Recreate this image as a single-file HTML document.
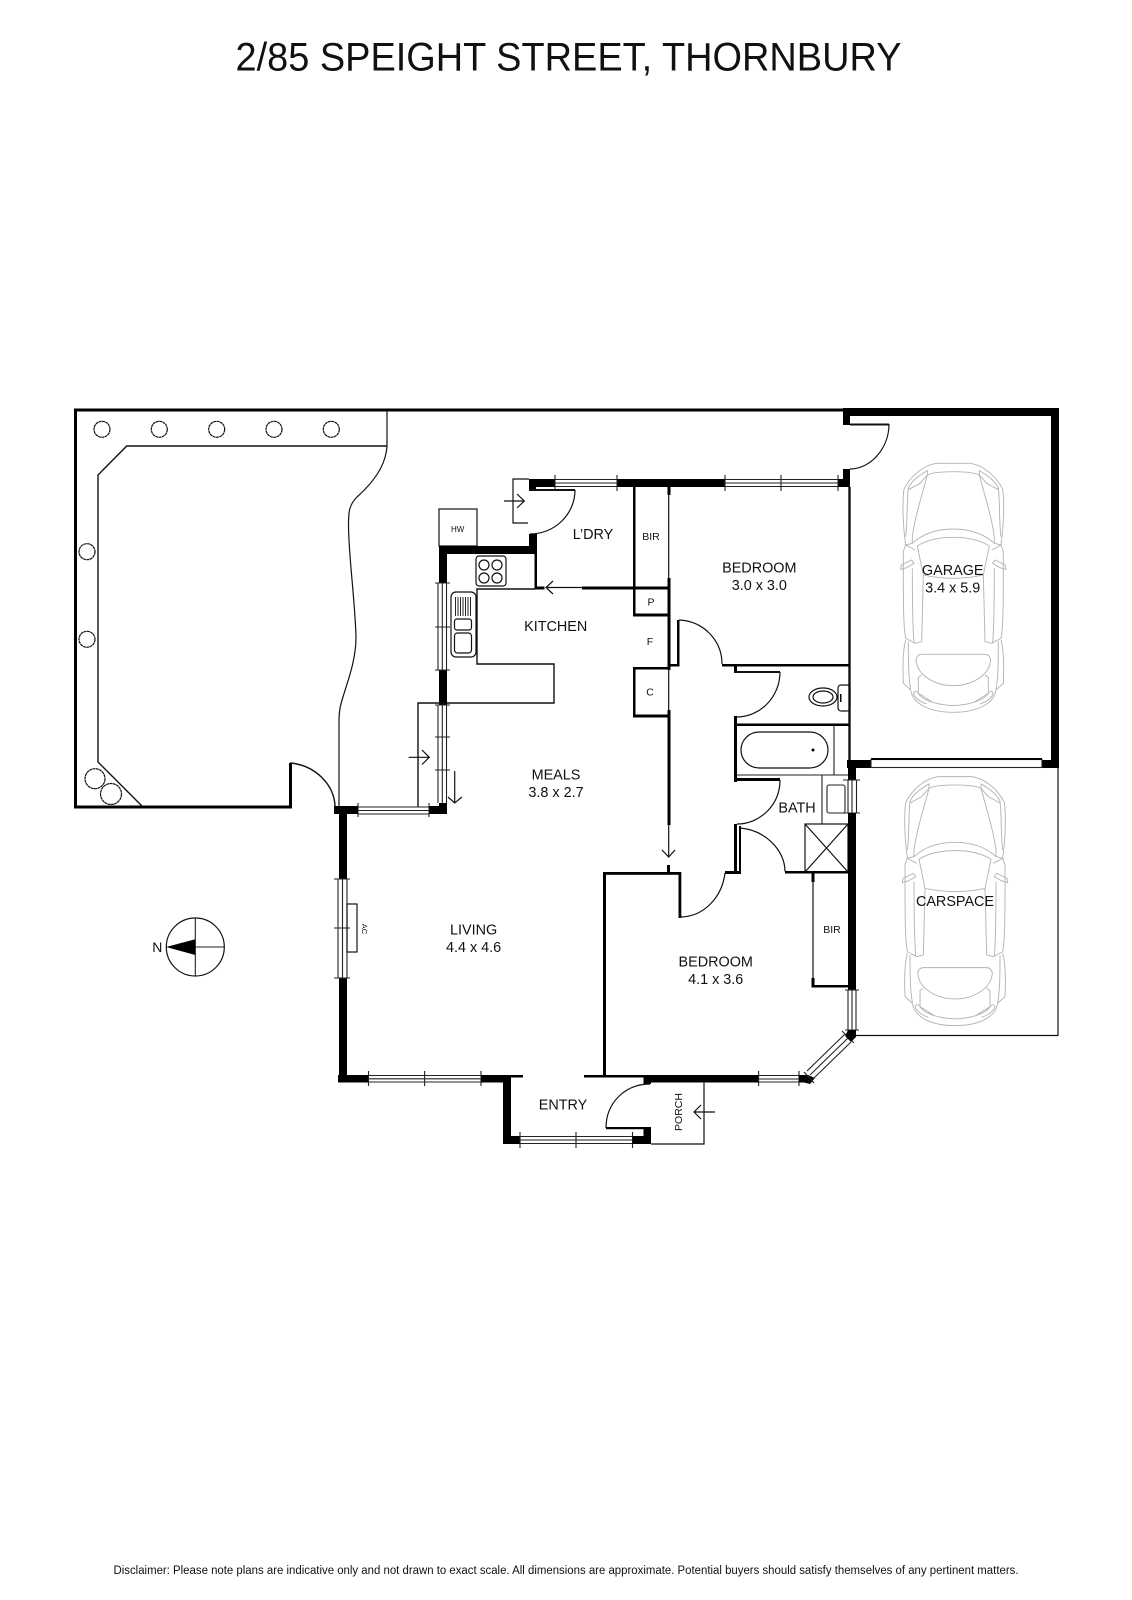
<!DOCTYPE html>
<html><head><meta charset="utf-8"><title>2/85 Speight Street, Thornbury</title>
<style>
html,body{margin:0;padding:0;background:#fff}
svg{display:block}
text{font-family:"Liberation Sans",sans-serif;fill:#111;text-anchor:middle}
.l{font-size:14.4px}
.s{font-size:10.5px}
.t{fill:none;stroke:#111;stroke-width:1.2}
.m{fill:none;stroke:#111;stroke-width:2.4}
.w{fill:#000;stroke:none}
.g{fill:none;stroke:#222;stroke-width:1.1}
.c{fill:none;stroke:#b4b4b4;stroke-width:2.8}
</style></head><body>
<svg width="1132" height="1600" viewBox="0 0 1132 1600" xmlns="http://www.w3.org/2000/svg">
<rect width="1132" height="1600" fill="#fff"/>
<text x="568.500" y="70.500" font-size="39.500" textLength="666" lengthAdjust="spacingAndGlyphs">2/85 SPEIGHT STREET, THORNBURY</text>
<text x="566" y="1574" font-size="11.500" textLength="905" lengthAdjust="spacingAndGlyphs">Disclaimer: Please note plans are indicative only and not drawn to exact scale. All dimensions are approximate. Potential buyers should satisfy themselves of any pertinent matters.</text>

<!-- yard -->
<path d="M845 410H75.500V807H290.500V763" fill="none" stroke="#000" stroke-width="3"/>
<path class="t" d="M387 410V446C386 462 378 478 357 497C349 505 348.500 512 348.500 525C348.500 555 355 600 356 637C356 660 348 680 343 697C340 706 339 712 339 722V807"/>
<path class="t" d="M387 446H126.700L98 475V762L142.700 806.700" style="stroke-width:1.4"/>
<path class="t" d="M290 763C315 765 335 785 335 807H340" style="stroke-width:1.4"/>
<g class="t" stroke-dasharray="3 .4">
<circle cx="102" cy="429.300" r="8"/><circle cx="159.300" cy="429.300" r="8"/><circle cx="216.700" cy="429.300" r="8"/><circle cx="274" cy="429.300" r="8"/><circle cx="331.300" cy="429.300" r="8"/>
<circle cx="87" cy="551.700" r="8"/><circle cx="87" cy="639.300" r="8"/>
<circle cx="95" cy="778.700" r="10"/><circle cx="111" cy="794" r="10.500"/>
</g>

<!-- garage -->
<rect class="w" x="843" y="408" width="216" height="8"/>
<rect class="w" x="843" y="408" width="7" height="17"/>
<rect class="w" x="1051" y="408" width="8" height="360"/>
<path class="m" d="M850 424.500H889" style="stroke-width:2"/>
<path class="t" d="M889 424C889 449 870 469 850 469"/>
<rect class="w" x="838" y="479" width="12" height="8"/>
<rect class="w" x="843" y="469" width="7" height="18"/>
<path class="m" d="M849.500 487V760"/>

<!-- top wall -->
<rect class="w" x="529" y="479" width="26" height="8"/>
<rect class="w" x="529" y="479" width="7" height="12"/>
<rect class="w" x="617" y="479" width="108" height="8"/>
<path class="g" d="M555 479.500H617M555 483H617M555 486.500H617M555 475V491M617 475V491"/>
<path class="g" d="M725 479.500H838M725 483H838M725 486.500H838M725 475V491M781 475V491M838 475V491"/>

<!-- laundry door -->
<path class="m" d="M529 490H575" style="stroke-width:2"/>
<path class="t" d="M575 490C575 514 555 534 530 534"/>
<path class="t" d="M529 479H513V523H528"/>
<path class="t" d="M504 501H524M517 494L524.300 501L517 508"/>

<!-- HW -->
<rect class="t" x="439" y="509" width="38" height="37"/>
<text x="457.700" y="532" font-size="8">HW</text>

<!-- kitchen walls -->
<rect class="w" x="439" y="546" width="98" height="8"/>
<rect class="w" x="529" y="534" width="8" height="20"/>
<rect class="w" x="439" y="546" width="8" height="37"/>
<rect class="w" x="439" y="670" width="8" height="35"/>
<rect class="w" x="534.500" y="553" width="2.500" height="35"/>
<rect class="w" x="534.500" y="586.500" width="10" height="3"/>
<path class="g" d="M438 583V670M442.300 583V670M446.500 583V670M435 583H450M435 627H450M435 670H450"/>
<path class="g" d="M438 705V803M442.300 705V803M446.500 705V803M435 705H450M435 737H450M435 770H450"/>
<rect class="w" x="429" y="806" width="18" height="8"/>
<rect class="w" x="439" y="803" width="8" height="11"/>
<path class="g" d="M358 807H429M358 810.500H429M358 814H429M358 803V817M429 803V817"/>
<rect class="w" x="334" y="806" width="24" height="8"/>
<rect class="w" x="339" y="806" width="8" height="73"/>

<!-- kitchen bench -->
<path class="t" d="M535 589H477V664H554V703H418V807" style="stroke-width:1.4"/>
<rect class="t" x="476" y="556" width="30" height="30" rx="3"/>
<circle class="t" cx="484" cy="565" r="5"/><circle class="t" cx="497" cy="565" r="5"/><circle class="t" cx="484" cy="578" r="5"/><circle class="t" cx="497" cy="578" r="5"/>
<rect class="t" x="451" y="592" width="25" height="65" rx="5"/>
<path class="t" d="M455.500 597V616M458 597V616M460.500 597V616M463 597V616M465.500 597V616M468 597V616M470.500 597V616" style="stroke-width:.9"/>
<rect class="t" x="454.500" y="619" width="17" height="11" rx="2.500"/>
<rect class="t" x="454.500" y="633" width="17" height="20" rx="3"/>
<path class="t" d="M408.700 757.300H429.300M422 750L429.300 757.300L422 764.500"/>
<path class="t" d="M454.700 771V803M448 797L454.700 803L462 797"/>

<!-- central walls -->
<path class="t" d="M546 587.500H582M553 581L546 587.500L553 594"/>
<rect class="w" x="582" y="586.500" width="87" height="3"/>
<rect class="w" x="633" y="487" width="2.500" height="129"/>
<rect class="w" x="633" y="613.500" width="37" height="3"/>
<rect class="w" x="667.500" y="578" width="3" height="92"/>
<rect class="w" x="667.500" y="487" width="3" height="8"/>
<path class="t" d="M668.700 495V578M668.700 668V710M668.700 825V857"/>
<rect class="w" x="667.500" y="710" width="3" height="115"/>
<path class="t" d="M662 850L668.700 857L675 850"/>
<rect class="w" x="667" y="865" width="3" height="8"/>
<rect class="w" x="633" y="667" width="37" height="2.500"/>
<rect class="w" x="633" y="667" width="2.500" height="50"/>
<rect class="w" x="633" y="714.500" width="37" height="3"/>

<!-- bedroom 1 door -->
<rect class="w" x="667.500" y="664" width="12" height="2.500"/>
<rect class="w" x="677" y="620" width="2.500" height="46"/>
<path class="t" d="M679 620C703 621 722 640 722 664"/>
<rect class="w" x="722" y="664" width="128" height="2.500"/>

<!-- toilet room -->
<rect class="w" x="734" y="665" width="3" height="8"/>
<path class="m" d="M734 672H780" style="stroke-width:2"/>
<path class="t" d="M780 672C780 697 760 717 737 717"/>
<rect class="w" x="734" y="716" width="3" height="66"/>
<rect class="w" x="734" y="723.500" width="116" height="2.500"/>
<ellipse class="t" cx="823" cy="697" rx="14" ry="9"/><ellipse class="t" cx="823" cy="697" rx="10" ry="6"/>
<rect class="t" x="838" y="685" width="12" height="26" rx="3"/>
<rect class="w" x="840" y="694" width="1.500" height="8"/>

<!-- bath -->
<rect class="t" x="741" y="732" width="87" height="36" rx="18"/>
<circle cx="813" cy="750" r="1.500" fill="#000"/>
<path class="g" d="M834 726V775M737 775H849"/>
<rect class="w" x="734" y="778" width="46" height="3"/>
<path class="t" d="M780 780C780 805 760 824 737 824"/>
<rect class="w" x="734" y="824" width="3" height="50"/>
<rect class="w" x="739" y="826" width="2" height="48"/>
<path class="g" d="M822 775V824H848"/>
<rect class="g" x="827" y="785" width="18" height="28" rx="2"/>
<rect class="t" x="805" y="824" width="43" height="48"/>
<path class="t" d="M805 824L848 872M848 824L805 872"/>
<path class="t" d="M740 828C765 830 785 850 785 871.500"/>
<rect class="w" x="785" y="871" width="65" height="2.500"/>
<rect class="w" x="725" y="871" width="16" height="3"/>

<!-- right thick wall / windows -->
<rect class="w" x="847" y="760" width="24" height="8"/>
<rect class="w" x="848" y="760" width="8" height="20"/>
<path class="g" d="M848 780V813M852 780V813M856.500 780V813M843 780H860M843 813H860"/>
<rect class="w" x="848" y="813" width="8" height="177"/>
<path class="g" d="M848 990V1030M852 990V1030M856 990V1030M845 990H859M845 1030H859"/>
<rect class="w" x="1042" y="760" width="17" height="8"/>
<rect class="g" x="871" y="759.500" width="171" height="8"/>
<rect class="w" x="871" y="758" width="171" height="2"/>

<!-- carspace -->
<path class="t" d="M856 1035.500H1058V768"/>

<!-- bedroom 2 -->
<rect class="w" x="603" y="872" width="78" height="2.800"/>
<rect class="w" x="603" y="872" width="3" height="204"/>
<rect class="w" x="678.500" y="872" width="2.800" height="46"/>
<path class="t" d="M725 873C722 898 703 917 680 917"/>
<path class="t" d="M813 882V978"/>
<rect class="w" x="811.500" y="873" width="3" height="9"/>
<rect class="w" x="811.500" y="978" width="3" height="9"/>
<rect class="w" x="811.500" y="985" width="37" height="2.500"/>

<!-- living -->
<rect class="w" x="339" y="978" width="8" height="104"/>
<path class="g" d="M338 879V978M342.500 879V978M347 879V978M334 879H350M334 928H350M334 978H350"/>
<rect class="t" x="347" y="904" width="10" height="48"/>
<text x="0" y="0" font-size="7.500" transform="translate(362 929) rotate(90)">AC</text>
<rect class="w" x="338" y="1075" width="30.500" height="7.500"/>
<path class="g" d="M368.500 1075.500H481M368.500 1078.800H481M368.500 1082H481M368.500 1071V1086M424.600 1071V1086M481 1071V1086"/>
<rect class="w" x="481" y="1075" width="30" height="7.500"/>
<rect class="w" x="481" y="1075" width="42" height="2.500"/>
<rect class="w" x="503" y="1075" width="8" height="69"/>
<rect class="w" x="503" y="1136" width="17" height="8"/>
<path class="g" d="M520 1136.500H632.500M520 1140H632.500M520 1143.500H632.500M520 1132V1148M576 1132V1148M632.500 1132V1148"/>
<rect class="w" x="632.500" y="1136" width="18.500" height="8"/>
<rect class="w" x="643.500" y="1127" width="7.500" height="17"/>
<rect class="w" x="606" y="1127" width="45" height="2.200"/>
<path class="t" d="M606 1128C606 1102 626 1084 650 1084"/>
<rect class="w" x="584" y="1075" width="60" height="2.500"/>
<rect class="w" x="643.500" y="1075" width="7.500" height="9"/>
<rect class="w" x="643.500" y="1075" width="115" height="7.500"/>
<path class="g" d="M758.600 1075.500H799M758.600 1079H799M758.600 1082H799M758.600 1071V1086M799 1071V1086"/>
<path class="w" d="M799 1075H808L815 1078L810 1084L804 1082.500H799Z"/>
<path class="g" d="M807 1071L845 1034M810 1075L848 1038M813 1079L851 1042M804 1072L814 1083M842 1031L854 1043"/>
<path class="w" d="M848 1030H856V1037L851 1042L845 1036Z"/>

<!-- porch -->
<path class="t" d="M704 1082V1144H651"/>
<path class="t" d="M694 1112H715M701 1105L694 1112L701 1119"/>
<text x="0" y="0" font-size="10.500" transform="translate(682 1112) rotate(-90)">PORCH</text>

<!-- compass -->
<circle class="t" cx="195.300" cy="947" r="29"/>
<path class="g" d="M195.300 918V976M195.300 947H224.300"/>
<path d="M166 947L195.300 939.300V955Z" fill="#000"/>
<text x="157.300" y="952" font-size="14">N</text>

<!-- cars -->
<defs>
<g id="half">
<path d="M340 190H290C250 195 210 230 192 268C187 300 188 370 197 435L190 455V510"/>
<path d="M205 265C200 300 203 370 197 410"/>
<path d="M205 264C215 240 245 222 262 212L262 225L240 250L207 268Z"/>
<path d="M340 215C300 215 275 218 262 225C245 290 225 350 217 410V430"/>
<path d="M340 387C290 387 250 400 217 430L197 435L225 450"/>
<path d="M340 412C300 412 260 420 232 438L250 525C280 532 310 535 340 535"/>
<path d="M182 508L184 495L215 480L222 490L200 503Z"/>
<path d="M190 510C190 600 190 680 197 715L225 730L245 725L250 525"/>
<path d="M217 505C217 600 218 680 222 728"/>
<path d="M340 763H245C235 763 230 770 228 780C232 830 290 857 340 857"/>
<path d="M245 825L235 832V880L275 905"/>
<path d="M197 720C188 750 188 810 190 850L212 870C218 910 265 937 340 937"/>
<path d="M205 725C205 780 205 830 212 868"/>
<path d="M220 880C225 870 232 875 235 880C250 905 300 915 340 917"/>
<path d="M220 880C225 895 240 905 260 912"/>
</g>
<g id="car"><use href="#half"/><use href="#half" transform="translate(680 0) scale(-1 1)"/></g>
</defs>
<g class="c" transform="translate(840 400) scale(.3333)"><use href="#car"/></g>
<g class="c" transform="translate(841.700 713.300) scale(.3333)"><use href="#car"/></g>

<!-- labels -->
<g class="l">
<text x="593" y="539">L’DRY</text>
<text x="555.700" y="631">KITCHEN</text>
<text x="759.300" y="572.500">BEDROOM</text>
<text x="759.300" y="590">3.0 x 3.0</text>
<text x="952.700" y="575">GARAGE</text>
<text x="952.700" y="592.700">3.4 x 5.9</text>
<text x="556" y="779.500">MEALS</text>
<text x="556" y="797">3.8 x 2.7</text>
<text x="797" y="812.500">BATH</text>
<text x="955" y="906">CARSPACE</text>
<text x="473.600" y="934.500">LIVING</text>
<text x="473.600" y="952">4.4 x 4.6</text>
<text x="715.700" y="966.500">BEDROOM</text>
<text x="715.700" y="984">4.1 x 3.6</text>
<text x="563" y="1109.500">ENTRY</text>
</g>
<g class="s">
<text x="651" y="540">BIR</text>
<text x="651" y="605.500">P</text>
<text x="650" y="645">F</text>
<text x="650" y="695.500">C</text>
<text x="832" y="933">BIR</text>
</g>
</svg>
</body></html>
